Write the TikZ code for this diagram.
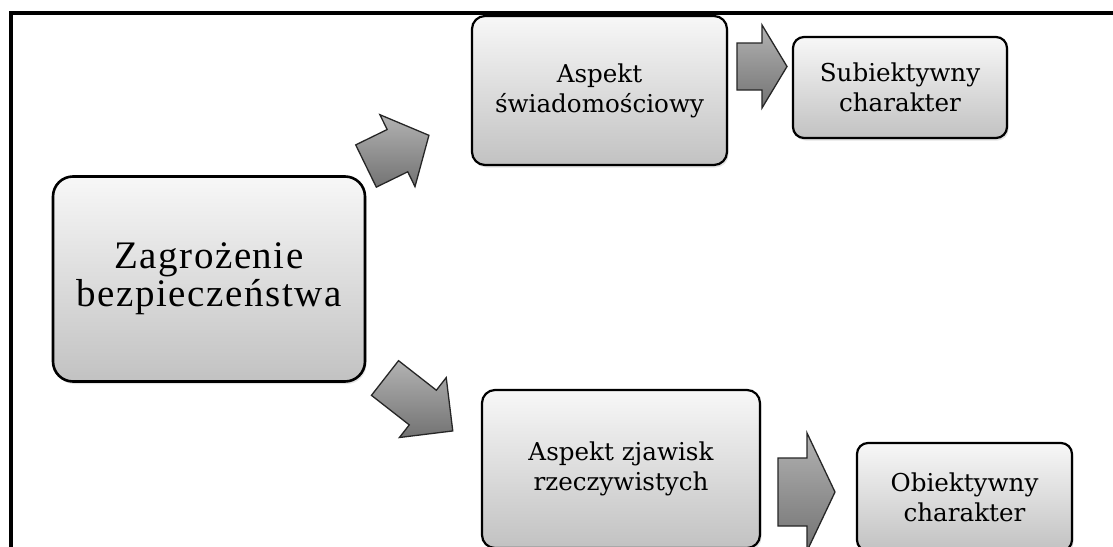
\documentclass[tikz,border=0pt]{standalone}
\usepackage{fontspec}
\setmainfont{Liberation Serif}
\newfontfamily\slabfont{DejaVu Serif}
\newfontfamily\bigserif[LetterSpace=4]{Liberation Serif}
\usetikzlibrary{shadows}
\tikzset{
  box/.style={draw=black, line width=2.2pt, rounded corners=13pt,
    top color=white!97!black, bottom color=black!24, align=center, inner sep=0pt,
    font=\slabfont\fontsize{24.6}{30}\selectfont,
    drop shadow={shadow xshift=1.5pt, shadow yshift=-2.5pt, opacity=0.22}},
  mainbox/.style={box, rounded corners=20pt, line width=2.6pt,
    font=\bigserif\fontsize{39}{38}\selectfont},
  blk/.style={draw=black!85, line width=1.3pt, line join=miter,
    top color=black!30, bottom color=black!55},
  frameline/.style={line width=4.6pt, line join=miter}
}
\newcommand\blockarr[7]{%
  \draw[blk, shift={(#1,#2)}, rotate=#3]
    (0,{-#5/2}) -- ({#4-#7},{-#5/2}) -- ({#4-#7},{-#6/2}) -- (#4,0)
    -- ({#4-#7},{#6/2}) -- ({#4-#7},{#5/2}) -- (0,{#5/2}) -- cycle;}
\begin{document}
\begin{tikzpicture}[x=1pt, y=-1pt]
\useasboundingbox[fill=white] (0,0) rectangle (1113,546);
% frame
\draw[frameline] (11,552) -- (11,13) -- (1120,13);
% boxes
\node[mainbox, minimum width=312pt, minimum height=205pt] (b1) at (209,279)
  {Zagrożenie\\bezpieczeństwa};
\node[box, minimum width=255pt, minimum height=149pt] (b2) at (599.5,90.5)
  {Aspekt\\świadomościowy};
\node[box, rounded corners=11pt, minimum width=214pt, minimum height=101pt] (b3) at (900,87.5)
  {Subiektywny\\charakter};
\node[box, minimum width=278pt, minimum height=158pt] (b4) at (621,469)
  {Aspekt zjawisk\\rzeczywistych};
\node[box, rounded corners=11pt, minimum width=215pt, minimum height=108pt] (b5) at (964.5,497)
  {Obiektywny\\charakter};
% block arrows
\blockarr{366}{166}{26}{70}{47}{80}{35}
\blockarr{385}{378}{-38}{86}{44}{76}{38}
\blockarr{737}{66.5}{0}{50}{47}{83}{25}
\blockarr{778}{492}{0}{57}{68}{118}{28}
\end{tikzpicture}
\end{document}
